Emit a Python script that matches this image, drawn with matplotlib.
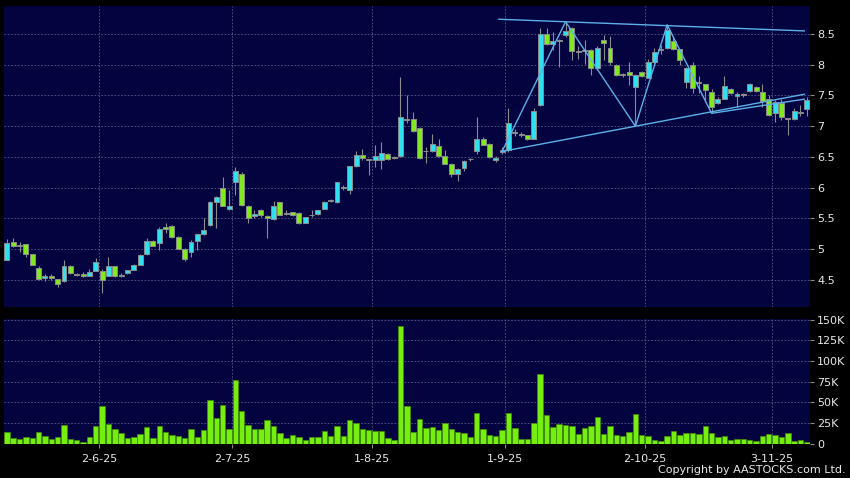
import matplotlib
matplotlib.use("Agg")
import matplotlib.pyplot as plt
import numpy as np

# daily OHLC (HKD)
opens = [4.83, 5.11, 5.05, 5.08, 4.92, 4.70, 4.53, 4.57, 4.51, 4.48,
         4.73, 4.60, 4.59, 4.57, 4.65, 4.65, 4.57, 4.72, 4.57, 4.61,
         4.67, 4.75, 4.93, 5.14, 5.10, 5.36, 5.37, 5.20, 5.01, 4.95,
         5.14, 5.24, 5.39, 5.76, 6.00, 5.66, 6.10, 6.22, 5.71, 5.54,
         5.64, 5.54, 5.49, 5.76, 5.58, 5.60, 5.59, 5.43, 5.55, 5.58,
         5.66, 5.79, 5.76, 6.02, 5.96, 6.35, 6.53, 6.45, 6.45, 6.45,
         6.55, 6.49, 6.52, 7.11, 7.11, 6.97, 6.59, 6.60, 6.68, 6.52,
         6.39, 6.22, 6.32, 6.46, 6.59, 6.80, 6.71, 6.45, 6.58, 6.62,
         6.89, 6.86, 6.85, 6.80, 7.34, 8.50, 8.33, 8.39, 8.49, 8.59,
         8.21, 8.22, 8.24, 7.94, 8.40, 8.27, 7.99, 7.84, 7.88, 7.63,
         7.88, 7.79, 8.04, 8.24, 8.28, 8.38, 8.25, 7.72, 7.99, 7.70,
         7.68, 7.55, 7.38, 7.45, 7.60, 7.49, 7.51, 7.57, 7.64, 7.56,
         7.45, 7.21, 7.37, 7.12, 7.11, 7.22, 7.28]
highs = [5.17, 5.19, 5.12, 5.09, 4.93, 4.72, 4.59, 4.60, 4.52, 4.82,
         4.74, 4.62, 4.63, 4.68, 4.86, 4.68, 4.88, 4.73, 4.62, 4.66,
         4.76, 4.92, 5.19, 5.15, 5.36, 5.43, 5.40, 5.21, 5.02, 5.15,
         5.25, 5.51, 5.78, 5.87, 6.18, 5.96, 6.33, 6.25, 5.72, 5.63,
         5.65, 5.55, 5.78, 5.77, 5.64, 5.61, 5.60, 5.53, 5.63, 5.64,
         5.79, 5.81, 6.10, 6.05, 6.36, 6.60, 6.63, 6.47, 6.69, 6.74,
         6.57, 6.52, 7.80, 7.50, 7.23, 6.98, 6.67, 6.88, 6.80, 6.62,
         6.40, 6.32, 6.45, 6.48, 7.15, 6.82, 6.72, 6.52, 6.66, 7.29,
         6.95, 6.90, 6.86, 7.29, 8.59, 8.59, 8.54, 8.42, 8.70, 8.62,
         8.30, 8.40, 8.25, 8.30, 8.49, 8.47, 8.02, 7.87, 8.05, 7.85,
         7.90, 8.10, 8.28, 8.32, 8.65, 8.45, 8.26, 7.96, 8.05, 7.82,
         7.69, 7.60, 7.47, 7.81, 7.62, 7.56, 7.54, 7.70, 7.66, 7.69,
         7.50, 7.42, 7.44, 7.14, 7.29, 7.35, 7.47]
lows = [4.82, 5.04, 4.95, 4.88, 4.74, 4.50, 4.48, 4.50, 4.39, 4.47,
        4.60, 4.56, 4.55, 4.56, 4.64, 4.29, 4.56, 4.55, 4.55, 4.60,
        4.66, 4.74, 4.90, 5.05, 4.99, 5.27, 5.19, 5.00, 4.81, 4.88,
        4.99, 5.23, 5.38, 5.35, 5.70, 5.64, 5.88, 5.70, 5.43, 5.50,
        5.53, 5.19, 5.48, 5.55, 5.55, 5.54, 5.41, 5.42, 5.53, 5.56,
        5.65, 5.76, 5.75, 5.97, 5.90, 6.33, 6.45, 6.20, 6.34, 6.30,
        6.45, 6.46, 6.50, 7.05, 6.90, 6.47, 6.41, 6.58, 6.50, 6.38,
        6.18, 6.11, 6.28, 6.43, 6.55, 6.69, 6.49, 6.42, 6.55, 6.58,
        6.84, 6.82, 6.78, 6.79, 7.33, 8.32, 8.24, 7.97, 8.45, 8.08,
        8.10, 8.02, 7.83, 7.92, 8.08, 8.00, 7.82, 7.80, 7.67, 7.00,
        7.80, 7.78, 8.02, 8.18, 8.26, 8.24, 8.00, 7.62, 7.54, 7.54,
        7.39, 7.21, 7.36, 7.44, 7.52, 7.32, 7.48, 7.56, 7.55, 7.32,
        7.16, 7.07, 7.10, 6.85, 7.10, 7.16, 7.17]
closes = [5.10, 5.05, 5.05, 4.92, 4.75, 4.51, 4.57, 4.53, 4.43, 4.73,
          4.61, 4.58, 4.56, 4.63, 4.80, 4.50, 4.73, 4.57, 4.58, 4.66,
          4.75, 4.90, 5.14, 5.06, 5.33, 5.33, 5.20, 5.01, 4.84, 5.11,
          5.24, 5.31, 5.76, 5.85, 5.71, 5.71, 6.27, 5.72, 5.50, 5.58,
          5.55, 5.50, 5.70, 5.56, 5.58, 5.56, 5.42, 5.52, 5.56, 5.63,
          5.76, 5.79, 6.09, 5.99, 6.35, 6.54, 6.49, 6.45, 6.51, 6.57,
          6.47, 6.49, 7.15, 7.10, 6.93, 6.48, 6.59, 6.71, 6.52, 6.39,
          6.22, 6.31, 6.44, 6.46, 6.80, 6.70, 6.50, 6.49, 6.62, 7.06,
          6.89, 6.86, 6.80, 7.24, 8.50, 8.33, 8.38, 8.39, 8.55, 8.22,
          8.21, 8.22, 7.94, 8.28, 8.35, 8.04, 7.84, 7.84, 7.83, 7.83,
          7.82, 8.05, 8.20, 8.24, 8.57, 8.25, 8.08, 7.94, 7.62, 7.70,
          7.59, 7.32, 7.45, 7.65, 7.54, 7.53, 7.51, 7.69, 7.57, 7.41,
          7.19, 7.40, 7.15, 7.12, 7.24, 7.22, 7.43]
# volume in thousands of shares
volume_k = [14.5, 7.3, 6, 8.5, 7.3, 14.5, 9.7, 5.2, 8.5, 22.6,
            5.2, 4, 2.4, 7.7, 21, 46, 24, 17.8, 13, 7.3,
            7.7, 12, 19.8, 7.3, 21, 13.7, 10, 8.9, 7.3, 17.8,
            8.5, 16, 53, 30.7, 47, 18, 77, 40, 22.6, 18,
            17.4, 28.7, 21.8, 13, 6.4, 10.9, 8.5, 4.8, 7.7, 8.1,
            14.9, 9.3, 21.8, 9.3, 28.7, 25.5, 17.8, 16.1, 14.9, 14.9,
            7.3, 4.8, 143, 45, 13.5, 30, 19, 20.2, 17, 24.6,
            17.4, 14.5, 12.5, 8.5, 36.7, 17.4, 10.5, 8.9, 16.6, 37.6,
            19.4, 5.2, 5.6, 24.6, 84.5, 34.8, 19.8, 23.9, 22.7, 21,
            12.1, 18.6, 21.8, 32.3, 12.1, 21.8, 10.9, 9.3, 14.5, 36,
            10.9, 9.7, 4.8, 2.8, 9.7, 14.9, 10.5, 13, 12.5, 11.7,
            21.8, 13.3, 7.7, 8.9, 4.4, 5.6, 5.2, 4.4, 2.8, 8.9,
            11.7, 10.1, 8.5, 13.3, 3.6, 4.4, 1.6]

# month boundaries (bar index) and their labels
month_idx = [14.5, 35.5, 57.5, 78.5, 100.5, 120.5]
month_labels = ["2-6-25", "2-7-25", "1-8-25", "1-9-25", "2-10-25", "3-11-25"]

price_ticks = [4.5, 5, 5.5, 6, 6.5, 7, 7.5, 8, 8.5]
vol_ticks = [0, 25, 50, 75, 100, 125, 150]

# hand drawn triangle / zigzag (bar index, price)
upper_x, upper_y = [77.5, 125.6], [8.74, 8.55]
lower_x, lower_y = [78, 125.6], [6.59, 7.52]
zig_x = [78, 88, 99, 104, 111, 125.6]
zig_y = [6.59, 8.70, 7.00, 8.65, 7.21, 7.44]

bg = "#03033f"
up_col = "#2ee0f0"
down_col = "#80ea1e"
edge_col = "#8c8c8c"
grid_col = "#5a5a88"
line_col = "#5cb0ea"
txt_col = "#e8e8e8"

o = np.array(opens)
h = np.array(highs)
l = np.array(lows)
c = np.array(closes)
v = np.array(volume_k) * 1000
x = np.arange(len(o))

fig = plt.figure(figsize=(8.5, 4.78), dpi=100, facecolor="black")
ax1 = fig.add_axes([4 / 850, 1 - 306.5 / 478, 806 / 850, 300.5 / 478])
ax2 = fig.add_axes([4 / 850, 1 - 444 / 478, 806 / 850, 125 / 478])

for ax in (ax1, ax2):
    ax.set_facecolor(bg)
    for s in ax.spines.values():
        s.set_visible(False)
    ax.set_xlim(-0.45, 126.5)
    ax.yaxis.tick_right()
    ax.tick_params(axis="y", colors=edge_col, labelcolor=txt_col, labelsize=8,
                   length=3, width=0.8, pad=2)
    ax.grid(True, axis="y", color=grid_col, linestyle=(0, (2, 2)), linewidth=0.6)
    for m in month_idx:
        ax.axvline(m, color=grid_col, linestyle=(0, (2, 2)), linewidth=0.6, zorder=0)
    ax.set_axisbelow(True)

# candles
colors = []
for oi, ci in zip(o, c):
    if ci > oi:
        colors.append(up_col)
    elif ci < oi:
        colors.append(down_col)
    else:
        colors.append(edge_col)
ax1.vlines(x, l, h, color=edge_col, linewidth=0.8, zorder=2)
body_h = np.maximum(np.abs(c - o), 0.012)
ax1.bar(x, body_h, bottom=np.minimum(o, c), width=0.78, color=colors,
        edgecolor=edge_col, linewidth=0.7, zorder=3)

ax1.plot(upper_x, upper_y, color=line_col, linewidth=1, zorder=4)
ax1.plot(lower_x, lower_y, color=line_col, linewidth=1, zorder=4)
ax1.plot(zig_x, zig_y, color=line_col, linewidth=1, zorder=4)

ax1.set_ylim(4.069, 8.955)
ax1.set_yticks(price_ticks)
ax1.set_yticklabels([f"{p:g}" for p in price_ticks])
ax1.set_xticks([])

# volume
ax2.bar(x, v, width=0.86, color="#76ee10", edgecolor="#3f8f00", linewidth=0.5, zorder=3)
ax2.set_ylim(-500, 151000)
ax2.set_yticks([t * 1000 for t in vol_ticks])
ax2.set_yticklabels(["0" if t == 0 else f"{t}K" for t in vol_ticks])
ax2.set_xticks(month_idx)
ax2.set_xticklabels(month_labels)
ax2.tick_params(axis="x", colors=edge_col, labelcolor=txt_col, labelsize=8,
                length=3, width=0.8, pad=4)

fig.text(0.995, 0.006, "Copyright by AASTOCKS.com Ltd.", color=txt_col,
         fontsize=8, ha="right", va="bottom")

fig.savefig("out.png", dpi=100, facecolor="black")
